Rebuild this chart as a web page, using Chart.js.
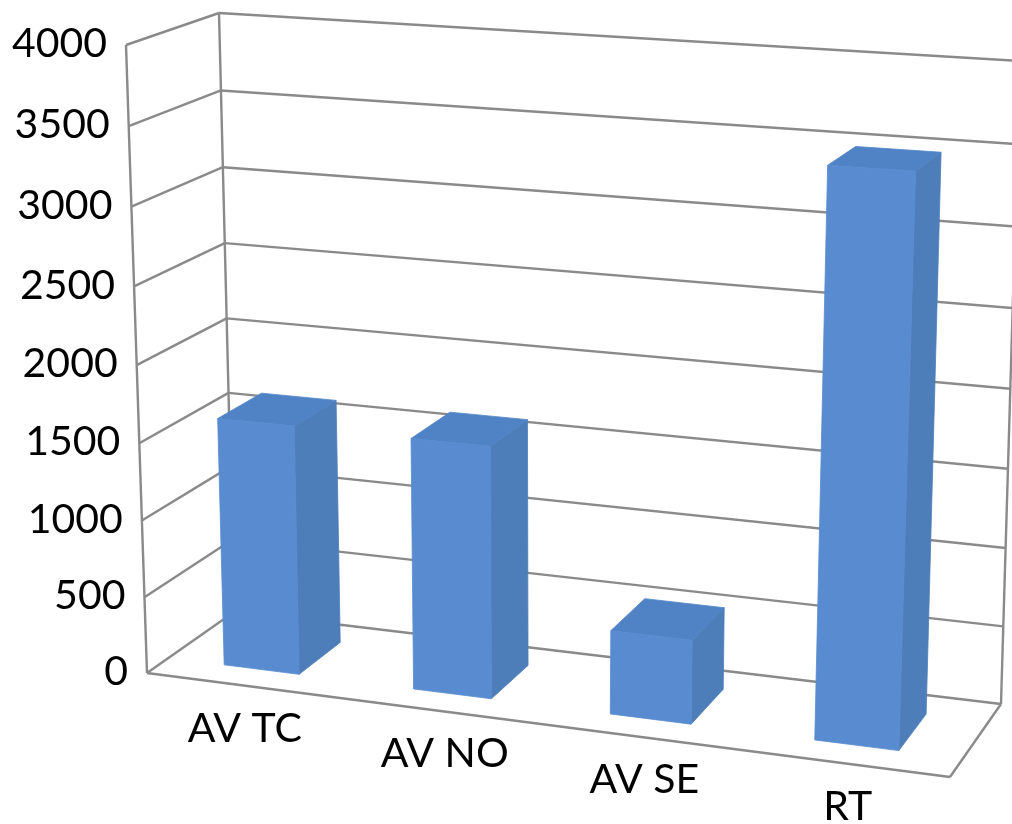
<!DOCTYPE html>
<html>
<head>
<meta charset="utf-8">
<title>3D columns</title>
<script src="https://cdn.jsdelivr.net/npm/chart.js@4/dist/chart.umd.min.js"></script>
<style>
  html, body { margin: 0; padding: 0; background: #fff; }
  canvas { display: block; }
</style>
</head>
<body>
<canvas id="chart" width="1012" height="824"></canvas>
<script>
const categories = ['AV TC', 'AV NO', 'AV SE', 'RT'];
const values = [1615, 1610, 530, 3480];
const yMax = 4000;
const yStep = 500;

const frontColor = '#588bcf';
const sideColor = '#4e7eba';
const topColor = '#5083c5';
const wallColor = '#8a8a8a';
const textColor = '#000';
const fontFamily = 'Lato, Carlito, sans-serif';

// box corners on screen: [x, y] for floor/ceiling, front/back, left/right
const box = {
  floorFrontLeft: [147, 673], floorFrontRight: [950, 777],
  floorBackLeft: [234, 612], floorBackRight: [1001, 704],
  topFrontLeft: [126, 45], topFrontRight: [974, 93],
  topBackLeft: [219, 13], topBackRight: [1020, 61]
};
const barFrontZ = 0.25;
const barBackZ = 0.757;
const perspX = 0.08;
const perspY = 0.04;
// small sideways shifts of the category captions
const captionShift = [-2, 5, 4, -1];

function lerp(a, b, t) {
  return [a[0] + (b[0] - a[0]) * t, a[1] + (b[1] - a[1]) * t];
}

// chart-area pixel + depth -> screen position inside the box
function project(chart, px, py, z) {
  const area = chart.chartArea;
  const t = (px - area.left) / (area.right - area.left);
  const s = (area.bottom - py) / (area.bottom - area.top);
  const u = t / (1 + perspX * (1 - t));
  const v = s / (1 + perspY * (1 - s));
  const floor = lerp(
    lerp(box.floorFrontLeft, box.floorFrontRight, u),
    lerp(box.floorBackLeft, box.floorBackRight, u), z);
  const ceil = lerp(
    lerp(box.topFrontLeft, box.topFrontRight, u),
    lerp(box.topBackLeft, box.topBackRight, u), z);
  return lerp(floor, ceil, v);
}

function line(ctx, a, b) {
  ctx.beginPath();
  ctx.moveTo(a[0], a[1]);
  ctx.lineTo(b[0], b[1]);
  ctx.stroke();
}

// the thin stroke closes the hairline seam between neighbouring faces
function face(ctx, pts, color) {
  ctx.beginPath();
  pts.forEach((p, i) => i ? ctx.lineTo(p[0], p[1]) : ctx.moveTo(p[0], p[1]));
  ctx.closePath();
  ctx.fillStyle = color;
  ctx.strokeStyle = color;
  ctx.lineWidth = 0.8;
  ctx.fill();
  ctx.stroke();
}

const bars3d = {
  id: 'bars3d',
  beforeDatasetsDraw(chart) {
    const ctx = chart.ctx;
    const area = chart.chartArea;
    const yScale = chart.scales.y;
    const xScale = chart.scales.x;
    const p = (px, py, z) => project(chart, px, py, z);

    ctx.save();
    ctx.strokeStyle = wallColor;
    ctx.lineWidth = 2.4;
    ctx.lineJoin = 'round';

    // side wall and back wall grid
    yScale.ticks.forEach(tick => {
      const py = yScale.getPixelForValue(tick.value);
      line(ctx, p(area.left, py, 0), p(area.left, py, 1));
      line(ctx, p(area.left, py, 1), p(area.right, py, 1));
    });
    line(ctx, p(area.left, area.bottom, 0), p(area.left, area.top, 0));
    line(ctx, p(area.left, area.bottom, 1), p(area.left, area.top, 1));
    line(ctx, p(area.right, area.bottom, 1), p(area.right, area.top, 1));
    // floor
    line(ctx, p(area.left, area.bottom, 0), p(area.right, area.bottom, 0));
    line(ctx, p(area.right, area.bottom, 0), p(area.right, area.bottom, 1));

    // columns: side, top, then front
    chart.getDatasetMeta(0).data.forEach(bar => {
      const l = bar.x - bar.width / 2;
      const r = bar.x + bar.width / 2;
      face(ctx, [p(r, bar.base, barFrontZ), p(r, bar.base, barBackZ), p(r, bar.y, barBackZ), p(r, bar.y, barFrontZ)], sideColor);
      face(ctx, [p(l, bar.y, barFrontZ), p(l, bar.y, barBackZ), p(r, bar.y, barBackZ), p(r, bar.y, barFrontZ)], topColor);
      face(ctx, [p(l, bar.base, barFrontZ), p(r, bar.base, barFrontZ), p(r, bar.y, barFrontZ), p(l, bar.y, barFrontZ)], frontColor);
    });

    // axis text follows the front edges of the box
    ctx.fillStyle = textColor;
    ctx.font = '41px ' + fontFamily;
    ctx.textBaseline = 'middle';
    ctx.textAlign = 'right';
    yScale.ticks.forEach(tick => {
      const pos = p(area.left, yScale.getPixelForValue(tick.value), 0);
      ctx.fillText(tick.label, pos[0] - 19, pos[1] - 1);
    });
    ctx.textAlign = 'center';
    ctx.font = '41px ' + fontFamily;
    categories.forEach((name, i) => {
      const pos = p(xScale.getPixelForValue(i), area.bottom, 0);
      ctx.fillText(name, pos[0] + 6 + captionShift[i], pos[1] + 44);
    });
    ctx.restore();
    return false;
  }
};

new Chart(document.getElementById('chart').getContext('2d'), {
  type: 'bar',
  data: {
    labels: categories,
    datasets: [{ data: values, backgroundColor: frontColor, barPercentage: 0.4, categoryPercentage: 1 }]
  },
  options: {
    responsive: false,
    animation: false,
    plugins: { legend: { display: false }, tooltip: { enabled: false } },
    scales: {
      x: { display: false },
      y: { display: false, min: 0, max: yMax, ticks: { stepSize: yStep, callback: v => String(v) } }
    }
  },
  plugins: [bars3d]
});
</script>
</body>
</html>
